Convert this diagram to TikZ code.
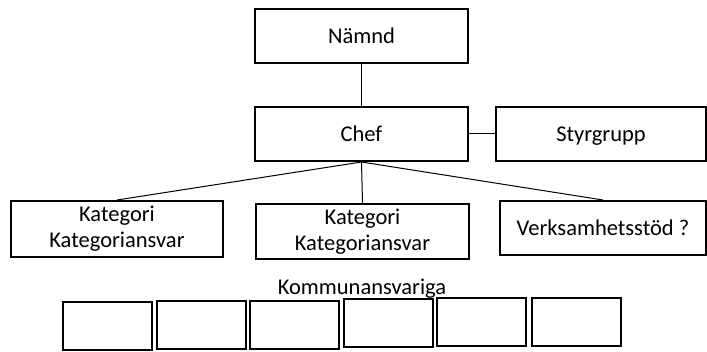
\documentclass[tikz,border=0pt]{standalone}
\usepackage{fontspec}
\setmainfont{Carlito}
\usepackage{tikz}
\usetikzlibrary{positioning}
\newcommand{\orgfont}{\fontsize{22.5}{26}\selectfont}
\tikzset{
  unit/.style  ={draw, line width=2pt, inner sep=0pt, align=center, font=\orgfont,
                 text height=16pt, text depth=1pt},
  top/.style   ={unit, minimum width=213pt, minimum height=54pt},
  twoline/.style={unit, text height=41pt, text depth=3pt},
  member/.style={draw, line width=2pt, inner sep=0pt, minimum width=89pt, minimum height=48pt},
  link/.style  ={line width=1pt},
}

\begin{document}
\begin{tikzpicture}[x=1pt,y=-1pt]
  \useasboundingbox (0,0) rectangle (707,352);
  % ledning
  \node[top] (namnd) at (361.5,36) {Nämnd};
  \node[top] (chef) at (361.5,134) {Chef};
  \node[top, minimum width=210pt] (styr) at (601,134) {Styrgrupp};
  % kategorier
  \node[twoline, minimum width=212pt, minimum height=56pt] (kat1) at (117,229)
    {Kategori\\Kategoriansvar};
  \node[twoline, minimum width=213pt, minimum height=55pt] (kat2) at (362.5,231.5)
    {Kategori\\Kategoriansvar};
  \node[unit, minimum width=206pt, minimum height=54pt] (verks) at (603,228)
    {Verksamhetsstöd ?};
  \draw[link] (namnd.south) -- (chef.north);
  \draw[link] (chef.east) -- (styr.west);
  \foreach \n in {kat1,kat2,verks}
    \draw[link] (chef.south) -- (\n.north);
  % kommunansvariga
  \node[font=\orgfont, anchor=base, inner sep=0pt] (komm) at (362,295) {Kommunansvariga};
  \foreach \i/\x/\y in {1/107.5/326,2/201.5/325.5,3/294/325.5,4/388.5/323.5,5/481.5/322,6/576.5/322}
    \node[member] (k\i) at (\x,\y) {};
\end{tikzpicture}
\end{document}
